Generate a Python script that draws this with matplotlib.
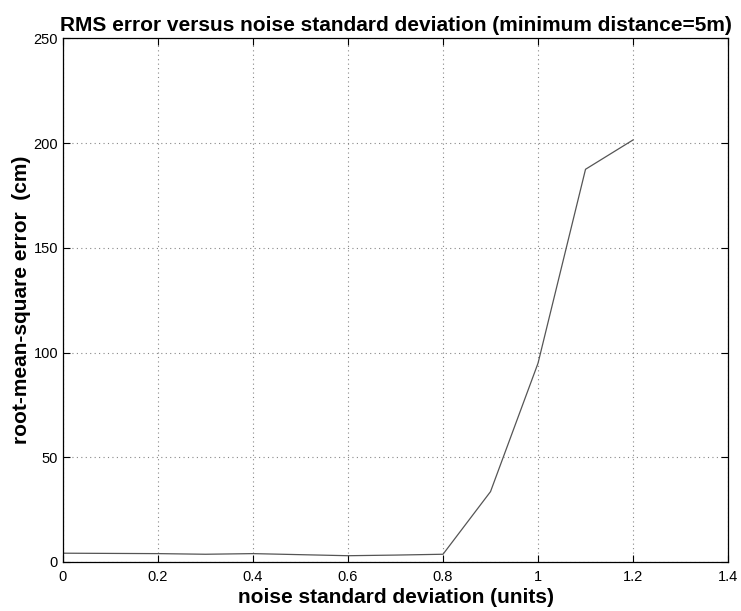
import matplotlib
matplotlib.use("Agg")
import matplotlib.pyplot as plt

noise_std = [0.0, 0.1, 0.2, 0.3, 0.4, 0.5, 0.6, 0.7, 0.8, 0.9, 1.0, 1.1, 1.2]
rms_error = [4.2, 4.1, 4.0, 3.7, 4.0, 3.5, 3.0, 3.3, 3.7, 33.6, 94.9, 187.5, 201.5]
x_ticks = [0, 0.2, 0.4, 0.6, 0.8, 1, 1.2, 1.4]
x_ticklabels = ["0", "0.2", "0.4", "0.6", "0.8", "1", "1.2", "1.4"]
y_ticks = [0, 50, 100, 150, 200, 250]

plt.rcParams['font.family'] = ['Liberation Sans', 'DejaVu Sans']

fig = plt.figure(figsize=(7.41, 6.11), dpi=100)
ax = fig.add_axes([0.085, 0.0802, 0.8975, 0.857])
ax.plot(noise_std, rms_error, color='#555555', linewidth=0.9)
ax.set_xlim(0, 1.4)
ax.set_ylim(0, 250)
ax.set_xticks(x_ticks)
ax.set_xticklabels(x_ticklabels)
ax.set_yticks(y_ticks)
ax.grid(True, linestyle=(0, (1, 3)), color='#888888', linewidth=0.8)
ax.tick_params(direction='in', labelsize=10.5, length=5, top=True, right=True)
ax.tick_params(axis='x', pad=5.5)
ax.tick_params(axis='y', pad=3.5)
for s in ax.spines.values():
    s.set_linewidth(0.9)
ax.set_title("RMS error versus noise standard deviation (minimum distance=5m)",
             fontsize=15, fontweight='bold', pad=5)
ax.set_xlabel("noise standard deviation (units)", fontsize=15, fontweight='bold', labelpad=3)
ax.set_ylabel("root-mean-square error  (cm)", fontsize=15, fontweight='bold', labelpad=2)
fig.savefig("out.png", dpi=100)
